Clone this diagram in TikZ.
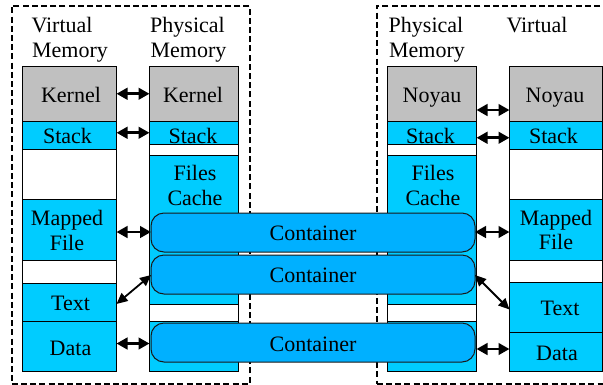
\documentclass[tikz,border=0pt]{standalone}
\usepackage{fontspec}
\setmainfont{Liberation Serif}
\usetikzlibrary{arrows.meta}
\definecolor{cyanb}{HTML}{00CCFF}
\definecolor{contb}{HTML}{00B0FF}
\definecolor{grayb}{HTML}{C0C0C0}
\tikzset{
  x=1pt,y=-1pt,
  seg/.style 2 args={draw=black,line width=1pt,rectangle,inner sep=0pt,outer sep=0pt,anchor=north west,minimum width=#1pt,minimum height=#2pt},
  lab/.style={anchor=base,inner sep=0pt,outer sep=0pt,font=\fontsize{22}{25}\selectfont,text=black},
  frame/.style={draw=black,line width=1.7pt,dash pattern=on 6pt off 3.2pt},
  cont/.style={draw=black!90,line width=1pt,fill=contb,rounded corners=13pt,rectangle,anchor=north west,inner sep=0pt,outer sep=0pt,minimum width=324pt,minimum height=39pt},
  dbl/.style={{Triangle[length=11pt,width=11.5pt]}-{Triangle[length=11pt,width=11.5pt]},line width=2.8pt,draw=black},
  dia/.style={{Triangle[length=11pt,width=10pt]}-{Triangle[length=11pt,width=10pt]},line width=1.8pt,draw=black},
}
\begin{document}
\begin{tikzpicture}
\useasboundingbox (0,0) rectangle (603,384);
% frames
\node[frame,rectangle,anchor=north west,inner sep=0pt,minimum width=238pt,minimum height=378pt] (frameL) at (11,5) {};
\node[frame,rectangle,anchor=north west,inner sep=0pt,minimum width=240pt,minimum height=378pt] (frameR) at (376,5) {};
% left virtual
\node[seg={94}{55.5},fill=grayb] (kV) at (22.5,66) {};
\node[seg={94}{27.5},fill=cyanb] (sV) at (22.5,121.5) {};
\node[seg={94}{50.5},fill=white] (eV) at (22.5,149) {};
\node[seg={94}{61},fill=cyanb] (mV) at (22.5,199.5) {};
\node[seg={94}{22.5},fill=white] (wV) at (22.5,260.5) {};
\node[seg={94}{38.5},fill=cyanb] (tV) at (22.5,283) {};
\node[seg={94}{50},fill=cyanb] (dV) at (22.5,321.5) {};
% left physical
\node[seg={89}{55.5},fill=grayb] (kP) at (149.5,66) {};
\node[seg={89}{22.5},fill=cyanb] (sP) at (149.5,121.5) {};
\node[seg={89}{11},fill=white] (eP) at (149.5,144) {};
\node[seg={89}{149.5},fill=cyanb] (fP) at (149.5,155) {};
\node[seg={89}{17},fill=white] (wP) at (149.5,304.5) {};
\node[seg={89}{50},fill=cyanb] (dP) at (149.5,321.5) {};
% right physical
\node[seg={89}{55.5},fill=grayb] (nQ) at (387.5,66) {};
\node[seg={89}{22.5},fill=cyanb] (sQ) at (387.5,121.5) {};
\node[seg={89}{11},fill=white] (eQ) at (387.5,144) {};
\node[seg={89}{149.5},fill=cyanb] (fQ) at (387.5,155) {};
\node[seg={89}{17},fill=white] (wQ) at (387.5,304.5) {};
\node[seg={89}{50},fill=cyanb] (dQ) at (387.5,321.5) {};
% right virtual
\node[seg={93}{55.5},fill=grayb] (nW) at (509.5,66) {};
\node[seg={93}{27.5},fill=cyanb] (sW) at (509.5,121.5) {};
\node[seg={93}{50.5},fill=white] (eW) at (509.5,149) {};
\node[seg={93}{61},fill=cyanb] (mW) at (509.5,199.5) {};
\node[seg={93}{22},fill=white] (wW) at (509.5,260.5) {};
\node[seg={93}{50},fill=cyanb] (tW) at (509.5,282.5) {};
\node[seg={93}{39},fill=cyanb] (dW) at (509.5,332.5) {};
% containers
\node[cont] (c1) at (151,213) {};
\node[cont] (c2) at (151,255) {};
\node[cont] (c3) at (151,323) {};
% connectors
\draw[dbl] (kV.east) -- (kP.west);
\draw[dbl] ([yshift=2.5pt]sV.east) -- (sP.west);
\draw[dbl] ([yshift=-2pt]mV.east) -- ([yshift=.5pt]c1.west);
\draw[dia] ([yshift=-1.7pt]tV.east) -- ([yshift=-0.5pt]c2.west);
\draw[dbl] ([yshift=3pt]dV.east) -- ([yshift=3pt]dP.west);
\draw[dbl] ([yshift=-16.25pt]nQ.east) -- ([yshift=-16.25pt]nW.west);
\draw[dbl] ([yshift=-5pt]sQ.east) -- ([yshift=-2.5pt]sW.west);
\draw[dbl] ([yshift=.5pt]c1.east) -- ([yshift=-2pt]mW.west);
\draw[dia] ([yshift=-.5pt]c2.east) -- ([yshift=-2pt]tW.west);
\draw[dbl] ([yshift=-2.5pt]dQ.east) -- ([yshift=3pt]dW.west);
% labels
\node[lab] (t1) at (62,32) {Virtual};
\node[lab] (t2) at (70,57) {Memory};
\node[lab] (t3) at (187.5,32) {Physical};
\node[lab] (t4) at (188.5,57) {Memory};
\node[lab] (t5) at (426,32) {Physical};
\node[lab] (t6) at (427,57) {Memory};
\node[lab] (t7) at (537,32) {Virtual};
\node[lab] (l1) at (71,102) {Kernel};
\node[lab] (l2) at (67.5,143) {Stack};
\node[lab] (l3) at (67,225) {Mapped};
\node[lab] (l4) at (67,250) {File};
\node[lab] (l5) at (70.5,310) {Text};
\node[lab] (l6) at (70.5,355) {Data};
\node[lab] (l7) at (193,102) {Kernel};
\node[lab] (l8) at (193,143) {Stack};
\node[lab] (l9) at (195,180) {Files};
\node[lab] (l10) at (195,205) {Cache};
\node[lab] (r1) at (432,102) {Noyau};
\node[lab] (r2) at (430.5,143) {Stack};
\node[lab] (r3) at (433,180) {Files};
\node[lab] (r4) at (433,205) {Cache};
\node[lab] (r5) at (555,102) {Noyau};
\node[lab] (r6) at (553.5,143) {Stack};
\node[lab] (r7) at (556,225) {Mapped};
\node[lab] (r8) at (556,249) {File};
\node[lab] (r9) at (560,315) {Text};
\node[lab] (r10) at (557,360) {Data};
\node[lab] at (c1.center |- 0,240) (k1) {Container};
\node[lab] at (c2.center |- 0,282) (k2) {Container};
\node[lab] at (c3.center |- 0,351) (k3) {Container};
\end{tikzpicture}
\end{document}
